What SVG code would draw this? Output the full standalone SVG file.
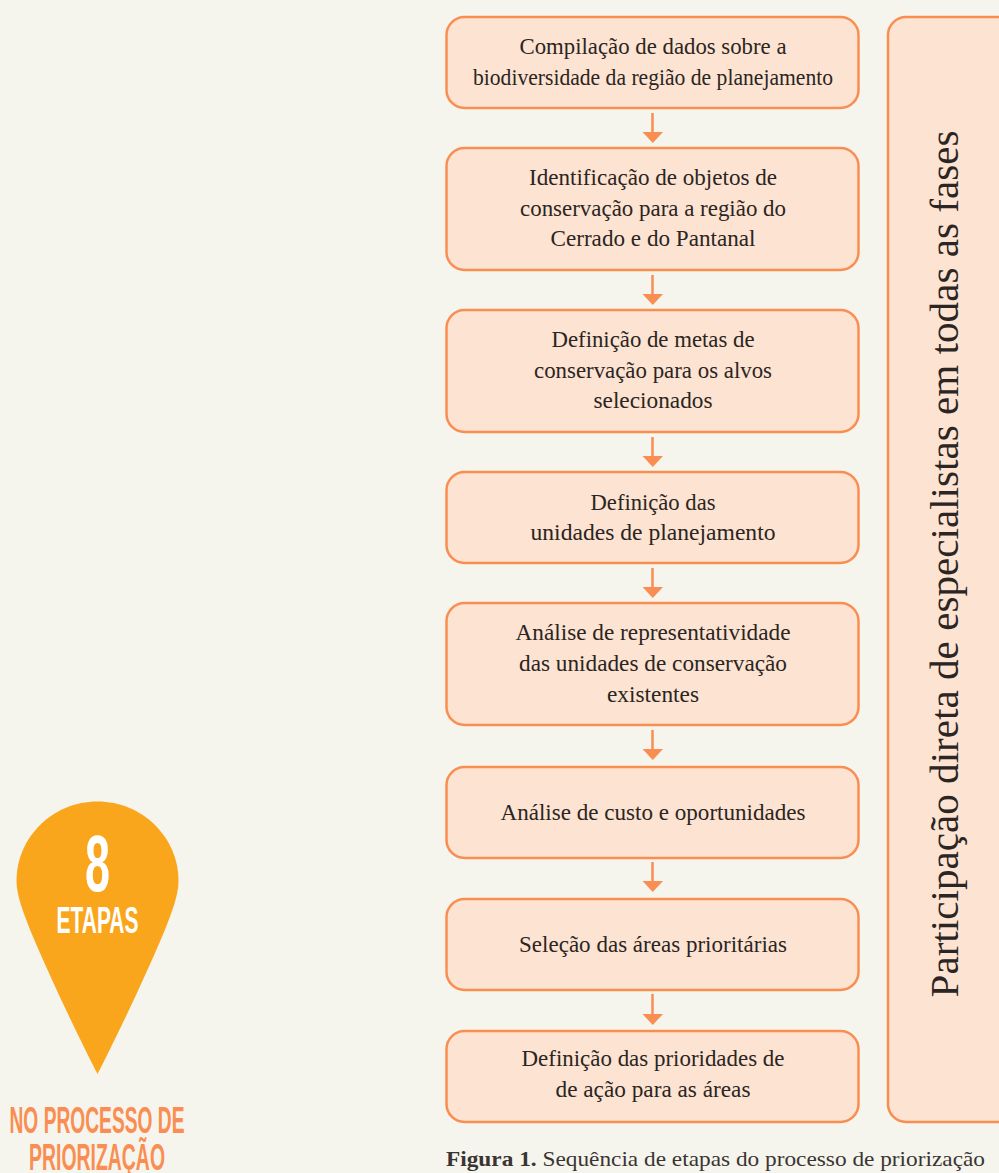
<svg xmlns="http://www.w3.org/2000/svg" width="999" height="1173" viewBox="0 0 999 1173">
<style>
.b{fill:#fde3d1;stroke:#fa8e52;stroke-width:2.5}
.t{font-family:"Liberation Serif",serif;font-size:22.500px;fill:#2b2523;text-anchor:middle}
.c{font-family:"Liberation Sans Narrow","Liberation Sans",sans-serif;font-weight:bold;fill:#fff;text-anchor:middle}
.o{font-family:"Liberation Sans Narrow","Liberation Sans",sans-serif;font-weight:bold;fill:#fa8e52;text-anchor:middle;font-size:37px}
.a{stroke:#fa8e52;stroke-width:2.500;fill:none}
.h{fill:#fa8e52}
</style>
<rect width="999" height="1173" fill="#f5f4ed"/>
<g id="connectors">
<path class="a" d="M652.500 113V135"/><path class="h" d="M642.500 132H663L652.750 143Z"/>
<path class="a" d="M652.500 275V297"/><path class="h" d="M642.500 294H663L652.750 305Z"/>
<path class="a" d="M652.500 437V459"/><path class="h" d="M642.500 456H663L652.750 467Z"/>
<path class="a" d="M652.500 568V590"/><path class="h" d="M642.500 587H663L652.750 598Z"/>
<path class="a" d="M652.500 730V752"/><path class="h" d="M642.500 749H663L652.750 760Z"/>
<path class="a" d="M652.500 862V884"/><path class="h" d="M642.500 881H663L652.750 892Z"/>
<path class="a" d="M652.500 994V1016"/><path class="h" d="M642.500 1014H663L652.750 1025Z"/>
</g>
<g id="n1"><rect class="b" x="446.500" y="17" width="412" height="91" rx="18"/><text class="t" x="653" y="54" textLength="267" lengthAdjust="spacingAndGlyphs">Compilação de dados sobre a</text><text class="t" x="653" y="85" textLength="360" lengthAdjust="spacingAndGlyphs">biodiversidade da região de planejamento</text></g>
<g id="n2"><rect class="b" x="446.500" y="148" width="412" height="122" rx="18"/><text class="t" x="653" y="185" textLength="248" lengthAdjust="spacingAndGlyphs">Identificação de objetos de</text><text class="t" x="653" y="216" textLength="266" lengthAdjust="spacingAndGlyphs">conservação para a região do</text><text class="t" x="653" y="246" textLength="205" lengthAdjust="spacingAndGlyphs">Cerrado e do Pantanal</text></g>
<g id="n3"><rect class="b" x="446.500" y="310" width="412" height="122" rx="18"/><text class="t" x="653" y="347" textLength="203" lengthAdjust="spacingAndGlyphs">Definição de metas de</text><text class="t" x="653" y="378" textLength="238" lengthAdjust="spacingAndGlyphs">conservação para os alvos</text><text class="t" x="653" y="408" textLength="119" lengthAdjust="spacingAndGlyphs">selecionados</text></g>
<g id="n4"><rect class="b" x="446.500" y="472" width="412" height="91" rx="18"/><text class="t" x="653" y="510" textLength="125" lengthAdjust="spacingAndGlyphs">Definição das</text><text class="t" x="653" y="540" textLength="245" lengthAdjust="spacingAndGlyphs">unidades de planejamento</text></g>
<g id="n5"><rect class="b" x="446.500" y="603" width="412" height="122" rx="18"/><text class="t" x="653" y="640" textLength="275" lengthAdjust="spacingAndGlyphs">Análise de representatividade</text><text class="t" x="653" y="671" textLength="268" lengthAdjust="spacingAndGlyphs">das unidades de conservação</text><text class="t" x="653" y="702" textLength="92" lengthAdjust="spacingAndGlyphs">existentes</text></g>
<g id="n6"><rect class="b" x="446.500" y="767" width="412" height="91" rx="18"/><text class="t" x="653" y="820" textLength="305" lengthAdjust="spacingAndGlyphs">Análise de custo e oportunidades</text></g>
<g id="n7"><rect class="b" x="446.500" y="899" width="412" height="91" rx="18"/><text class="t" x="653" y="952" textLength="268" lengthAdjust="spacingAndGlyphs">Seleção das áreas prioritárias</text></g>
<g id="n8"><rect class="b" x="446.500" y="1031" width="412" height="91" rx="18"/><text class="t" x="653" y="1066" textLength="263" lengthAdjust="spacingAndGlyphs">Definição das prioridades de</text><text class="t" x="653" y="1097" textLength="195" lengthAdjust="spacingAndGlyphs">de ação para as áreas</text></g>
<g id="side"><rect class="b" x="888" y="17" width="130" height="1105" rx="18"/><text font-family="'Liberation Serif',serif" font-size="40" fill="#2b2523" text-anchor="middle" transform="translate(958 564) rotate(-90)" textLength="867" lengthAdjust="spacingAndGlyphs">Participação direta de especialistas em todas as fases</text></g>
<g id="pin"><path d="M97.500 801.500C142 801.500 178.500 837 178.500 881C178.500 895 172 912 164 932C146 975 120 1030 97.500 1074C75 1030 49 975 31 932C23 912 16.500 895 16.500 881C16.500 837 53 801.500 97.500 801.500Z" fill="#faa61c"/><text class="c" x="97.500" y="891" font-size="80" textLength="25" lengthAdjust="spacingAndGlyphs">8</text><text class="c" x="97.500" y="933" font-size="37" textLength="82" lengthAdjust="spacingAndGlyphs">ETAPAS</text></g>
<g id="pinlabel"><text class="o" x="97" y="1133" textLength="175" lengthAdjust="spacingAndGlyphs">NO PROCESSO DE</text><text class="o" x="97" y="1170" textLength="136" lengthAdjust="spacingAndGlyphs">PRIORIZAÇÃO</text></g>
<text id="caption" x="446" y="1166" font-family="'Liberation Serif',serif" font-size="21" fill="#3a3533" textLength="539" lengthAdjust="spacingAndGlyphs"><tspan font-weight="bold">Figura 1.</tspan> Sequência de etapas do processo de priorização</text>
</svg>
